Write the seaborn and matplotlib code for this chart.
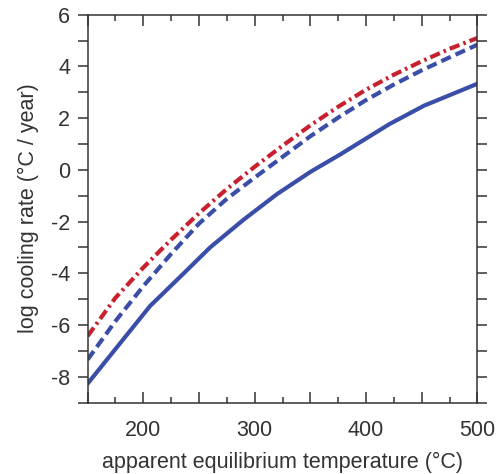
import numpy as np
import pandas as pd
import matplotlib
matplotlib.use("Agg")
import matplotlib.pyplot as plt
import seaborn as sns
from matplotlib.ticker import MultipleLocator, FuncFormatter

# Data
t_solid = [150, 206, 234, 260, 290, 320, 350, 377, 421, 452, 500]
v_solid = [-8.27, -5.27, -4.1, -3.0, -1.93, -0.94, -0.08, 0.6, 1.77, 2.48, 3.33]

t_dash = [150, 175, 200, 225, 250, 275, 300, 325, 350, 375, 400, 425, 450, 475, 500]
v_dash = [-7.34, -5.85, -4.5, -3.25, -2.08, -1.12, -0.3, 0.5, 1.3, 2.02, 2.7, 3.3, 3.85, 4.35, 4.84]

t_dashdot = [150, 175, 200, 225, 250, 275, 300, 325, 350, 375, 400, 425, 450, 475, 500]
v_dashdot = [-6.43, -4.95, -3.78, -2.7, -1.68, -0.74, 0.12, 0.93, 1.72, 2.44, 3.1, 3.68, 4.2, 4.68, 5.1]

sns.set_style("white")
plt.rcParams['font.family'] = ['Liberation Sans', 'DejaVu Sans']

fig = plt.figure(figsize=(5.01, 4.74), dpi=100)
ax = fig.add_axes([0.1749, 0.1508, 0.953 - 0.1749, 0.969 - 0.1508])

blue = "#3a4ea8"
red = "#c8202e"
lw = 3.0

sns.lineplot(x=t_solid, y=v_solid, ax=ax, color=blue, lw=lw)
l2 = sns.lineplot(x=t_dash, y=v_dash, ax=ax, color=blue, lw=lw).lines[-1]
l2.set_dashes((2.5, 1.25))
l3 = sns.lineplot(x=t_dashdot, y=v_dashdot, ax=ax, color=red, lw=lw).lines[-1]
l3.set_dashes((2.5, 1.0, 0.6, 1.0))

ax.set_xlim(150, 500)
ax.set_ylim(-9, 6)

txt = "#333333"
for s in ax.spines.values():
    s.set_color("#333333")
    s.set_linewidth(1.1)
    s.set_visible(True)

ax.xaxis.set_major_locator(MultipleLocator(50))
ax.xaxis.set_minor_locator(MultipleLocator(25))
ax.xaxis.set_major_formatter(FuncFormatter(lambda v, p: f"{int(v)}" if (v % 100 == 0) else ""))
ax.yaxis.set_major_locator(MultipleLocator(2))
ax.yaxis.set_minor_locator(MultipleLocator(1))
ax.yaxis.set_major_formatter(FuncFormatter(lambda v, p: f"{int(v)}"))

fs = 15.5
ax.tick_params(axis='x', which='major', direction='in', top=True, bottom=True,
               length=8, width=1.1, color="#333333", labelsize=fs, labelcolor=txt, pad=12.5)
ax.tick_params(axis='x', which='minor', direction='in', top=True, bottom=True,
               length=4, width=1.1, color="#333333")
ax.tick_params(axis='y', which='both', direction='out', left=True, right=True,
               length=7.5, width=1.1, color="#333333", labelsize=fs, labelcolor=txt, pad=5)

ax.set_xlabel("apparent equilibrium temperature (°C)", fontsize=fs, color=txt, labelpad=8)
ax.set_ylabel("log cooling rate (°C / year)", fontsize=fs, color=txt, labelpad=9)

fig.savefig("out.png", dpi=100)
